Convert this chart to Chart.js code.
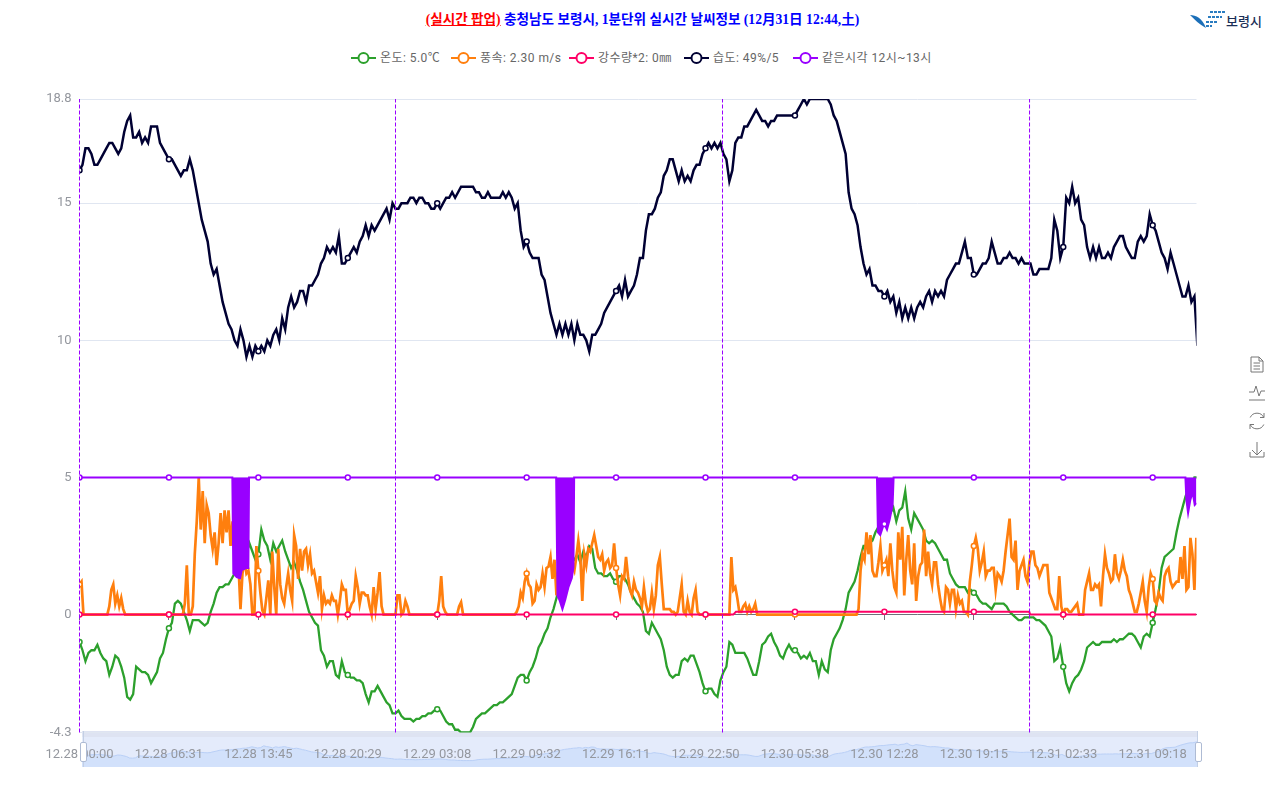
<!DOCTYPE html>
<html lang="ko">
<head>
<meta charset="utf-8">
<title>보령시 실시간 날씨정보</title>
<script src="https://cdn.jsdelivr.net/npm/chart.js@4/dist/chart.umd.min.js"></script>
<style>
  html, body { margin: 0; padding: 0; background: #fff; }
  body { width: 1280px; height: 790px; overflow: hidden; position: relative; font-family: Roboto, "Noto Sans CJK KR", sans-serif; }
  #title { position: absolute; left: 0; top: 11px; width: 1285px; text-align: center; font: bold 13.6px "Liberation Serif", "Noto Sans CJK KR", serif; color: #0000ff; line-height: 18px; }
  #title u { color: #ff0000; }
  #legend { position: absolute; left: 0; top: 49px; width: 1280px; height: 18px; font-size: 12px; line-height: 18px; color: #666; letter-spacing: 0.45px; }
  #legend span { position: absolute; top: 0; display: flex; align-items: center; gap: 4px; white-space: nowrap; }
  #legend span:nth-child(1) { left: 351px; }
  #legend span:nth-child(2) { left: 451px; }
  #legend span:nth-child(3) { left: 569px; }
  #legend span:nth-child(4) { left: 684px; }
  #legend span:nth-child(5) { left: 793px; }
  #slider { position: absolute; left: 82px; top: 731px; width: 1116px; height: 36px; background: #e4ebfb; }
  #sliderTop { position: absolute; left: 0; top: 0; width: 100%; height: 6px; background: #dee3f2; }
  #sliderChart { position: absolute; left: 0; top: 0; }
  #main { position: absolute; left: 0; top: 0; }
  .handle { position: absolute; top: 742px; width: 5px; height: 18px; background: #fff; border: 1px solid #aebbd4; border-radius: 2px; }
  .handleLine { position: absolute; top: 731px; width: 1px; height: 36px; background: #c3cfe4; }
  #logoText { position: absolute; left: 1226px; top: 11px; font: 500 13px "Noto Sans CJK KR", sans-serif; line-height: 19px; color: #1b2f57; }
  svg.abs { position: absolute; }
</style>
</head>
<body>
<div id="title"><u>(실시간 팝업)</u> 충청남도 보령시, 1분단위 실시간 날씨정보 (12月31日 12:44,土)</div>
<div id="legend"></div>

<svg class="abs" style="left:1188px;top:9px" width="38" height="22">
  <path d="M2 6 C8 6 14 9 18 19 C11 15 7 11 2 6Z" fill="#1b6fb8"/>
  <g fill="#2a7cc0">
    <rect x="22" y="2" width="3" height="2"/><rect x="26" y="2" width="3" height="2"/><rect x="30" y="2" width="3" height="2"/><rect x="34" y="2" width="3" height="2"/>
    <rect x="20" y="7" width="3" height="2"/><rect x="24" y="7" width="3" height="2"/><rect x="28" y="7" width="3" height="2"/><rect x="32" y="7" width="2" height="2"/>
    <rect x="18" y="12" width="3" height="2"/><rect x="22" y="12" width="3" height="2"/><rect x="26" y="12" width="3" height="2"/>
    <rect x="18" y="16" width="3" height="2"/><rect x="22" y="16" width="2" height="2"/>
  </g>
</svg>
<div id="logoText">보령시</div>

<div id="slider"><canvas id="sliderChart" width="1116" height="36"></canvas><div id="sliderTop"></div></div>
<canvas id="main" width="1280" height="790"></canvas>
<div class="handleLine" style="left:83px"></div>
<div class="handleLine" style="left:1197px"></div>
<div class="handle" style="left:80px"></div>
<div class="handle" style="left:1195px"></div>

<svg class="abs" style="left:1249px;top:355px" width="16" height="104" fill="none" stroke="#777" stroke-width="1">
  <path d="M2 2H10L14 6V17H2Z M10 2V6H14 M4.5 8H11 M4.5 11H11 M4.5 14H11"/>
  <path d="M0 37H5L7 31L10 41L12 36H16 M0 45H16"/>
  <path d="M14.8 62.5A7.5 7.5 0 0 0 1.2 62.5 M1.2 69.5A7.5 7.5 0 0 0 14.8 69.5 M15 58V62.5H11 M1 74V69.5H5"/>
  <path d="M8 87V100 M3 95L8 100L13 95 M1 97V102H15V97"/>
</svg>

<script>
// Tick labels on the bottom axis, one per marker
const tickLabels = ['12.28 00:00','12.28 06:31','12.28 13:45','12.28 20:29','12.29 03:08','12.29 09:32','12.29 16:11','12.29 22:50','12.30 05:38','12.30 12:28','12.30 19:15','12.31 02:33','12.31 09:18'];
const yTicks = [18.8, 15, 10, 5, 0, -4.3];
const legendLabels = ['온도: 5.0℃', '풍속: 2.30 m/s', '강수량*2: 0㎜', '습도: 49%/5', '같은시각 12시~13시'];
const seriesColors = ['#2ca02c', '#ff7f0e', '#ff0066', '#000033', '#9900ff'];

// Values between two tick labels, one inner list per label
const tempByTick = [
  [-1.0,-1.3,-1.7,-1.4,-1.3,-1.3,-1.1,-1.4,-1.6,-1.7,-2.2,-1.9,-1.5,-1.6,-1.9,-2.3,-3.0,-3.1,-2.9,-1.9,-2.0,-2.1,-2.1,-2.2,-2.5,-2.3,-2.1,-1.6,-1.4,-0.9],
  [-0.5,-0.3,0.4,0.5,0.4,0.1,-0.2,-0.6,-0.2,-0.2,-0.2,-0.3,-0.4,-0.3,0.1,0.4,0.8,1.0,1.0,1.1,1.1,1.3,1.5,1.6,1.9,1.9,2.2,2.6,2.3,2.0],
  [2.2,3.1,2.7,2.5,2.0,2.6,2.3,2.5,2.7,2.3,2.0,1.7,1.9,1.6,1.2,0.9,0.5,0.1,-0.1,-0.3,-0.4,-1.3,-1.5,-1.9,-1.7,-1.7,-2.2,-2.3,-1.7,-2.1],
  [-2.2,-2.3,-2.3,-2.4,-2.4,-2.5,-2.9,-3.2,-2.8,-2.8,-2.6,-2.8,-3.0,-3.2,-3.3,-3.6,-3.6,-3.5,-3.7,-3.8,-3.8,-3.8,-3.9,-3.8,-3.8,-3.7,-3.7,-3.6,-3.6,-3.5],
  [-3.45,-3.5,-3.7,-3.9,-4.0,-4.0,-4.2,-4.2,-4.3,-4.3,-4.3,-4.3,-4.1,-3.8,-3.7,-3.6,-3.6,-3.5,-3.4,-3.3,-3.3,-3.2,-3.2,-3.1,-3.0,-2.9,-2.6,-2.3,-2.2,-2.2],
  [-2.4,-2.1,-1.9,-1.6,-1.2,-1.0,-0.7,-0.5,-0.1,0.2,0.6,1.0,1.3,1.5,1.7,1.9,2.0,2.2,1.9,2.3,2.1,2.5,2.4,1.7,1.5,1.5,1.4,1.4,1.5,1.3],
  [1.2,1.4,1.4,1.3,1.1,0.8,0.6,0.4,0.3,0.1,-0.6,-0.7,-0.3,-0.5,-0.7,-0.9,-1.3,-1.9,-2.2,-2.3,-2.2,-2.2,-1.7,-1.6,-1.7,-1.5,-1.5,-1.8,-2.1,-2.5],
  [-2.8,-2.7,-2.7,-2.9,-3.0,-2.4,-2.1,-1.9,-1.0,-1.1,-1.4,-1.4,-1.4,-1.4,-1.6,-1.9,-2.2,-2.2,-1.7,-1.1,-1.0,-0.8,-0.7,-1.0,-1.2,-1.5,-1.6,-1.3,-1.1,-1.3],
  [-1.3,-1.4,-1.6,-1.5,-1.6,-1.4,-1.7,-1.7,-2.2,-1.7,-2.0,-2.1,-1.3,-0.9,-0.7,-0.5,-0.2,0.2,0.8,1.0,1.2,1.6,2.1,2.5,2.5,2.6,2.7,3.0,3.2,3.2],
  [3.4,3.6,3.7,3.9,3.4,3.8,3.9,4.5,3.5,3.1,3.7,3.5,3.3,3.1,2.7,2.6,2.7,2.6,2.4,2.2,2.0,2.0,1.5,1.3,1.1,1.0,1.0,1.0,0.8,0.9],
  [0.8,0.7,0.5,0.4,0.4,0.3,0.2,0.4,0.4,0.4,0.4,0.3,0.1,0.0,-0.1,-0.2,-0.2,-0.1,-0.1,-0.1,-0.1,-0.2,-0.2,-0.3,-0.4,-0.6,-0.8,-1.7,-1.6,-1.2],
  [-1.9,-2.5,-2.8,-2.5,-2.3,-2.2,-2.0,-1.7,-1.2,-1.1,-1.0,-1.1,-1.1,-1.0,-1.0,-1.0,-1.0,-0.9,-1.0,-0.9,-0.9,-0.8,-0.7,-0.7,-0.8,-1.0,-1.2,-0.8,-0.7,-0.8],
  [-0.3,0.2,0.8,1.7,2.1,2.2,2.3,2.4,3.0,3.5,3.9,4.3,4.6,4.6,5.0,5.0]
];

const windByTick = [
  [1.1,1.2,0,0,0,0,0,0,0,0,0,0,0,0,0,0.3,0.9,1.1,0.4,0.7,0.3,0.6,0.2,0,0,0,0,0,0,0,0,0,0,0,0,0,0,0,0,0,0,0,0,0,0],
  [0,0,0,0,0,0,0,0,0.4,1.8,0,0,0.3,2.2,3.4,5.0,3.1,4.5,2.6,4.0,3.7,2.9,2.4,3.0,1.8,2.6,3.7,2.6,3.8,3.0,3.8,2.5,3.4,2.5,3.0,1.8,0.2,1.5,2.0,1.5,1.6,1.1,0,0,2.5],
  [1.6,0.8,0.15,0,0.6,1.25,0,2.3,1.0,0,2.4,1.1,0.6,0.4,1.0,1.5,0.9,0.5,2.9,2.5,1.3,2.4,1.6,2.3,2.4,1.8,2.2,1.5,1.6,1.2,0.8,1.4,0.2,0.7,0.4,0.5,0.4,0.7,0.5,0.5,0,0.5,1.1,0.9,0.9],
  [0,0.2,0.4,0.5,1.4,1.0,0.4,0.8,0.8,0.7,0.7,0.3,0,1.0,0.2,0.8,1.55,0.3,0,0,0,0,0,0,0,0.7,0.7,0,0.1,0.5,0.3,0,0,0,0,0,0,0,0,0,0,0,0,0,0],
  [0,0.5,1.4,0.3,0.1,0,0,0,0,0,0,0.3,0.45,0,0,0,0,0,0,0,0,0,0,0,0,0,0,0,0,0,0,0,0,0,0,0,0,0,0,0,0.1,0.3,0.8,0.6,1.2],
  [1.5,1.1,1.0,0.4,0.5,1.1,0.9,1.0,1.5,1.0,1.7,1.75,2.1,1.3,2.0,0.7,1.8,1.6,2.0,1.6,1.9,1.7,2.0,1.8,1.6,2.1,2.7,2.1,0.5,2.2,1.8,2.4,2.3,2.6,2.9,2.5,2.1,2.0,2.2,1.6,1.9,2.0,1.7,1.8,2.6],
  [1.7,1.1,0.7,1.4,1.3,2.1,1.4,0.9,0.7,1.2,0.9,0.8,0.6,0.3,1.0,0.4,0.1,0.2,0.8,0.2,0.7,1.8,2.1,1.1,0.2,0.2,0.2,0.2,0.1,0.1,0,0.1,0.6,1.1,0.1,0,0.5,0.1,0,0.6,0.9,0.1,0,0,0],
  [0,0,0,0,0,0,0,0,0,0,0,0,0,2.1,0.9,1.0,0.6,0.1,0.1,0.3,0.4,0.1,0.3,0.1,0.2,0.4,0,0,0,0,0,0,0,0,0,0,0,0,0,0,0,0,0,0,0],
  [0,0,0,0,0,0,0,0,0,0,0,0,0,0,0,0,0,0,0,0,0,0,0,0,0,0,0,0,0,0,0,0,0.2,1.6,2.2,2.0,3.0,2.2,2.9,1.6,1.4,1.4,1.9,2.5,1.6],
  [1.8,2.0,1.4,2.6,1.6,1.0,0.8,3.0,2.0,3.2,0.7,2.0,2.9,1.6,1.1,2.6,0.5,1.4,1.8,1.9,3.1,1.4,2.3,1.5,1.1,1.9,1.9,1.1,0.6,0.2,0.1,1.0,0.9,0.4,0.9,0.9,0.2,0.7,0.4,0.5,0.1,0.1,0,1.2,1.8],
  [2.5,2.8,2.4,1.6,1.9,2.3,1.4,1.6,1.6,1.7,1.7,0.9,1.5,1.4,1.2,1.6,2.3,2.9,3.5,2.1,2.0,2.7,0.9,1.6,1.8,2.0,1.4,1.2,1.9,2.3,2.3,1.8,1.7,1.4,1.6,1.8,1.8,1.8,0.8,0.6,0.4,0.2,0.2,1.4,0.3],
  [0,0.2,0.2,0.1,0.1,0.2,0.3,0.4,0,0,0,0.9,1.2,1.5,0.9,0.9,1.1,1.0,1.1,0.3,1.4,2.2,1.7,1.5,1.2,1.3,2.2,1.5,1.3,1.6,2.0,1.6,1.4,0.9,0.7,0.4,0.1,0.1,0.4,0.8,1.2,0.5,0.1,1.0,1.5],
  [1.3,0.5,0.4,0.8,0.6,0.5,1.4,1.6,1.7,1.2,1.0,1.1,1.2,1.2,2.1,1.3,2.5,0.9,1.0,2.8,2.2,0.9,2.8,2.3]
];

const humidityByTick = [
  [16.2,16.4,17.0,17.0,16.8,16.4,16.4,16.6,16.8,17.0,17.2,17.2,17.0,16.8,17.0,17.6,18.0,18.2,17.4,17.4,17.6,17.2,17.4,17.2,17.8,17.8,17.8,17.2,17.0,16.8],
  [16.6,16.6,16.4,16.2,16.0,16.2,16.2,16.6,16.2,15.6,15.0,14.4,14.0,13.6,12.8,12.4,12.6,12.0,11.4,11.0,10.6,10.4,10.0,9.8,10.4,10.0,9.4,9.8,9.4,9.8],
  [9.6,9.8,9.6,10.0,9.8,10.2,10.4,10.0,10.8,10.4,11.2,11.6,11.2,11.4,11.8,11.8,11.4,12.0,12.0,12.2,12.4,12.8,13.0,13.4,13.2,13.4,13.2,13.8,12.8,12.8],
  [13.0,13.2,13.4,13.2,13.6,13.8,14.2,13.8,14.2,14.0,14.2,14.4,14.6,14.8,14.4,15.0,14.8,14.8,15.0,15.0,15.0,15.2,15.2,15.0,15.2,15.2,15.0,15.0,14.8,14.8],
  [15.0,14.8,15.0,15.2,15.2,15.4,15.2,15.4,15.6,15.6,15.6,15.6,15.6,15.4,15.4,15.2,15.2,15.4,15.2,15.2,15.2,15.2,15.4,15.2,15.4,15.2,14.8,15.0,14.0,13.4],
  [13.6,13.2,13.0,13.0,13.0,12.4,12.2,11.6,11.0,10.6,10.2,10.6,10.2,10.6,10.2,10.6,10.0,10.6,10.2,10.2,10.0,9.6,10.2,10.2,10.4,10.6,11.0,11.2,11.4,11.6],
  [11.8,12.0,11.6,12.2,11.6,11.8,12.0,12.4,13.0,13.0,14.0,14.6,14.6,14.8,15.2,15.4,16.0,16.2,16.6,16.6,16.2,15.8,16.2,15.8,16.0,15.8,16.2,16.4,16.4,16.8],
  [17.0,17.2,17.0,17.2,17.0,17.2,16.8,16.6,15.8,16.2,17.2,17.4,17.4,17.8,17.8,18.0,18.2,18.4,18.2,18.0,18.0,17.8,18.0,18.0,18.2,18.2,18.2,18.2,18.2,18.2],
  [18.2,18.4,18.6,18.8,18.6,18.8,18.8,18.8,18.8,18.8,18.8,18.8,18.6,18.2,18.0,17.6,17.2,16.8,15.4,14.8,14.6,14.2,13.4,12.8,12.4,12.6,12.0,12.0,11.8,11.8],
  [11.6,11.8,11.4,11.6,11.0,11.4,10.8,11.2,10.8,11.2,10.8,11.2,11.4,11.2,11.6,11.8,11.4,11.8,11.6,11.8,11.6,12.2,12.4,12.6,12.8,12.8,13.2,13.6,13.0,13.0],
  [12.4,12.4,12.6,12.8,12.8,13.0,13.6,13.2,12.8,12.8,13.0,13.0,13.2,13.0,13.0,12.8,13.0,12.8,12.8,12.8,12.4,12.4,12.6,12.6,12.6,12.6,13.0,14.4,14.0,13.0],
  [13.4,15.2,15.0,15.6,15.0,15.2,14.4,14.2,13.4,13.0,13.4,13.0,13.4,13.0,13.0,13.2,13.0,13.4,13.6,13.8,13.8,13.4,13.2,13.0,13.0,13.6,13.8,13.6,13.8,14.6],
  [14.2,14.0,13.6,13.2,13.0,12.6,13.2,12.8,12.4,12.0,11.6,11.6,12.0,11.4,11.6,9.8]
];

// Rain and the 12-13h series are flat, so only their corners are listed (x = tick number)
const rainX = [0,1,2,3,4,5,6,7,7.31,7.34,8,9,10,10.62,10.63,11,12,12.49];
const rainY = [0,0,0,0,0,0,0,0,0,0.1,0.1,0.1,0.1,0.1,0,0,0,0];
const sameX = [0,1,1.709,1.72,1.758,1.795,1.814,1.87,1.888,1.896,2,3,4,5,5.33,5.345,5.367,5.4,5.431,5.467,5.505,5.523,5.531,6,7,8,8.917,8.928,8.954,8.991,9,9.029,9.058,9.092,9.103,10,11,12,12.366,12.377,12.396,12.421,12.447,12.47,12.49];
const sameY = [5,5,5,1.5,1.37,1.33,1.62,1.7,1.7,5,5,5,5,5,5,0.7,0.53,0.2,0.53,1.0,1.33,1.73,5,5,5,5,5,3.0,2.9,3.27,3.3,3.1,3.45,4.0,5,5,5,5,5,4.18,3.7,4.18,4.47,4.0,4.07];

// Midnight lines, in tick numbers
const dayBreaks = [0, 3.5335, 7.19, 10.623];

const xMax = 12.49;

function toPoints(rows, perTick) {
  const points = [];
  rows.forEach((row, t) => {
    row.forEach((v, j) => {
      // the last row is cut off, so keep the normal step there
      const step = t < rows.length - 1 ? row.length : perTick;
      points.push({ x: t + j / step, y: v });
    });
  });
  return points;
}

function zip(xs, ys) {
  return xs.map((x, i) => ({ x: x, y: ys[i] }));
}

// Legend
legendLabels.forEach((label, i) => {
  const item = document.createElement('span');
  item.innerHTML = '<svg width="25" height="14"><path d="M0 7H25" stroke="' + seriesColors[i] + '" stroke-width="2"/>' +
    '<circle cx="12.5" cy="7" r="5" fill="#fff" stroke="' + seriesColors[i] + '" stroke-width="2"/></svg>' + label;
  document.getElementById('legend').appendChild(item);
});

function seriesLine(label, data, color, order, width) {
  return {
    label: label,
    data: data,
    borderColor: color,
    backgroundColor: color,
    borderWidth: width,
    pointRadius: c => Number.isInteger(c.raw.x) ? 2.5 : 0,
    pointBackgroundColor: '#fff',
    pointBorderColor: color,
    pointBorderWidth: 1.5,
    tension: 0,
    fill: false,
    order: order
  };
}

const sameSeries = seriesLine('같은시각', zip(sameX, sameY), seriesColors[4], 1, 2);
sameSeries.fill = { value: 5 };

const datasets = [
  seriesLine('온도', toPoints(tempByTick, 30), seriesColors[0], 5, 2.3),
  seriesLine('풍속', toPoints(windByTick, 45), seriesColors[1], 4, 2.7),
  seriesLine('강수량', zip(rainX, rainY), seriesColors[2], 3, 2),
  seriesLine('습도', toPoints(humidityByTick, 30), seriesColors[3], 2, 2.5),
  sameSeries
];

dayBreaks.forEach(x => {
  datasets.push({
    data: [{ x: x, y: yTicks[5] }, { x: x, y: yTicks[0] }],
    borderColor: '#9900ff',
    borderWidth: 1,
    borderDash: [4, 2],
    pointRadius: 0,
    clip: false,
    order: 0
  });
});

const tickFont = { family: 'Roboto, "Noto Sans CJK KR", sans-serif', size: 13 };
const tickNumbers = tickLabels.map((_, i) => i);

new Chart(document.getElementById('main').getContext('2d'), {
  type: 'line',
  data: { datasets: datasets },
  options: {
    responsive: false,
    animation: false,
    layout: { padding: { top: 99, right: 83.5, bottom: 0, left: 0 } },
    plugins: { legend: { display: false }, tooltip: { enabled: false } },
    scales: {
      x: {
        type: 'linear',
        min: 0,
        max: xMax,
        afterFit: s => { s.height = 57.5; },
        afterBuildTicks: s => { s.ticks = tickNumbers.map(v => ({ value: v })); },
        grid: { display: false },
        border: { display: false },
        ticks: {
          autoSkip: false,
          maxRotation: 0,
          padding: 6,
          color: '#94979e',
          font: tickFont,
          callback: v => tickLabels[v]
        }
      },
      // axis line and small tick marks sit on y = 0
      x0: {
        type: 'linear',
        min: 0,
        max: xMax,
        position: { y: 0 },
        afterBuildTicks: s => { s.ticks = tickNumbers.map(v => ({ value: v })); },
        grid: { drawOnChartArea: false, drawTicks: true, tickLength: 5, color: '#6e7079' },
        border: { display: true, color: '#6e7079' },
        ticks: { display: false }
      },
      y: {
        min: yTicks[5],
        max: yTicks[0],
        afterFit: s => { s.width = 79.5; },
        afterBuildTicks: s => { s.ticks = yTicks.map(v => ({ value: v })); },
        grid: { color: '#e0e6f1', drawTicks: false },
        border: { display: false },
        ticks: { padding: 8, color: '#94979e', font: tickFont, autoSkip: false, callback: v => String(v) }
      }
    }
  }
});

// Overview strip below the axis
new Chart(document.getElementById('sliderChart').getContext('2d'), {
  type: 'line',
  data: {
    datasets: [{
      data: toPoints(tempByTick, 30),
      borderColor: '#b9cff6',
      backgroundColor: '#d2e1fb',
      borderWidth: 1,
      pointRadius: 0,
      fill: 'start'
    }]
  },
  options: {
    responsive: false,
    animation: false,
    layout: { padding: 0 },
    plugins: { legend: { display: false }, tooltip: { enabled: false } },
    scales: {
      x: { type: 'linear', min: 0, max: xMax, display: false },
      y: { min: -7.5, max: 10.5, display: false }
    }
  }
});
</script>
</body>
</html>
